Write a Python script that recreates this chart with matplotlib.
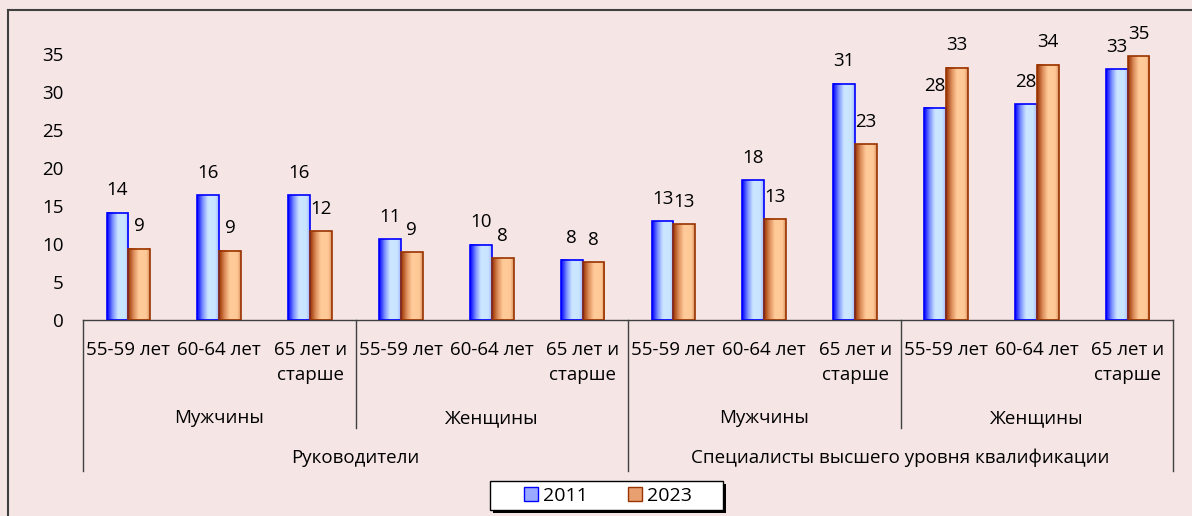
import numpy as np
import matplotlib.pyplot as plt
from matplotlib.colors import LinearSegmentedColormap
from matplotlib.patches import Patch, Rectangle
from matplotlib.lines import Line2D

plt.rcParams['font.family'] = ['Open Sans', 'DejaVu Sans']

# Данные
ages = ['55-59 лет', '60-64 лет', '65 лет и\nстарше'] * 4
sexes = ['Мужчины', 'Женщины', 'Мужчины', 'Женщины']
groups = ['Руководители', 'Специалисты высшего уровня квалификации']
years = ['2011', '2023']
vals_2011 = [14.1, 16.4, 16.4, 10.6, 9.9, 7.9, 13.0, 18.4, 31.1, 27.9, 28.4, 33.0]
vals_2023 = [9.4, 9.1, 11.7, 8.9, 8.1, 7.6, 12.6, 13.3, 23.1, 33.2, 33.6, 34.7]

# Градиенты как в Excel
blue_cmap = LinearSegmentedColormap.from_list('blue', [
    (0.0, (0/255, 0/255, 255/255)),
    (0.25, (120/255, 140/255, 255/255)),
    (0.5, (204/255, 230/255, 255/255)),
    (0.85, (200/255, 228/255, 255/255)),
    (1.0, (160/255, 180/255, 255/255))])
orange_cmap = LinearSegmentedColormap.from_list('orange', [
    (0.0, (153/255, 51/255, 0/255)),
    (0.25, (220/255, 140/255, 90/255)),
    (0.5, (255/255, 204/255, 153/255)),
    (0.85, (255/255, 200/255, 150/255)),
    (1.0, (215/255, 145/255, 95/255))])

bg = '#F5E5E5'
fig = plt.figure(figsize=(11.92, 5.16), dpi=100, facecolor=bg)
ax = fig.add_axes([83/1192, (516-320)/516, (1173-83)/1192, 304/516])
ax.set_facecolor('none')

x = np.arange(len(ages)) + 0.5
w = 0.24
grad = np.linspace(0, 1, 64)[np.newaxis, :]

for vals, off, cmap, ec in [(vals_2011, -w/2, blue_cmap, '#0000FF'),
                            (vals_2023, w/2, orange_cmap, '#993300')]:
    bars = ax.bar(x + off, vals, w, facecolor='none', edgecolor=ec, linewidth=1.2, zorder=3)
    for rect in bars:
        x0 = rect.get_x()
        ax.imshow(grad, extent=(x0, x0 + rect.get_width(), 0, rect.get_height()),
                  cmap=cmap, aspect='auto', interpolation='bicubic', zorder=2)
    for xi, v in zip(x + off, vals):
        ax.annotate(f'{v:.0f}', (xi, v), xytext=(0, 12.5), textcoords='offset points',
                    ha='center', va='baseline', fontsize=13.5, color='black')

ax.set_xlim(0, 12)
ax.set_ylim(0, 40)
ax.set_xticks([])
ax.set_yticks(range(0, 36, 5))
ax.tick_params(axis='y', length=0, pad=14, labelsize=13.5)
for s in ['top', 'right', 'left']:
    ax.spines[s].set_visible(False)
ax.spines['bottom'].set_color('#404040')
ax.spines['bottom'].set_linewidth(1.0)

# Многоуровневая ось категорий
tr = ax.get_xaxis_transform()
for xi, lab in zip(x, ages):
    for k, line in enumerate(lab.split('\n')):
        ax.text(xi, [-0.1151, -0.1974][k], line, transform=tr, ha='center',
                va='baseline', fontsize=13.5)
for i, s in enumerate(sexes):
    ax.text(3 * i + 1.5, -0.3388, s, transform=tr, ha='center', va='baseline', fontsize=13.5)
for i, g in enumerate(groups):
    ax.text(6 * i + 3, -0.4704, g, transform=tr, ha='center', va='baseline', fontsize=13.5)
for xb in [3, 9]:
    ax.plot([xb, xb], [0, -0.355], transform=tr, color='#404040', lw=1.0, clip_on=False)
for xb in [0, 6, 12]:
    ax.plot([xb, xb], [0, -0.497], transform=tr, color='#404040', lw=1.0, clip_on=False)

# Легенда
fig.patches.append(Rectangle((492.5/1192, 3.5/516), 233/1192, 29/516, transform=fig.transFigure,
                             facecolor='black', edgecolor='black', lw=0))
fig.patches.append(Rectangle((490/1192, 6/516), 233/1192, 29/516, transform=fig.transFigure,
                             facecolor='white', edgecolor='black', lw=1.0))
handles = [Patch(facecolor='#99AAFF', edgecolor='#0000FF'),
           Patch(facecolor='#E8A070', edgecolor='#993300')]
fig.legend(handles, years, loc='center', bbox_to_anchor=(608/1192, (516-496)/516),
           ncol=2, frameon=False, handlelength=0.7, handleheight=0.7, handletextpad=0.25,
           columnspacing=2.1, fontsize=14, borderpad=0)

# Рамка диаграммы
fig.add_artist(Line2D([8/1192, 8/1192], [0, (516-10)/516], transform=fig.transFigure,
                      color='#404040', lw=1.5))
fig.add_artist(Line2D([8/1192, 1], [(516-10)/516] * 2, transform=fig.transFigure,
                      color='#404040', lw=1.5))

fig.savefig('out.png', dpi=100, facecolor=bg)
